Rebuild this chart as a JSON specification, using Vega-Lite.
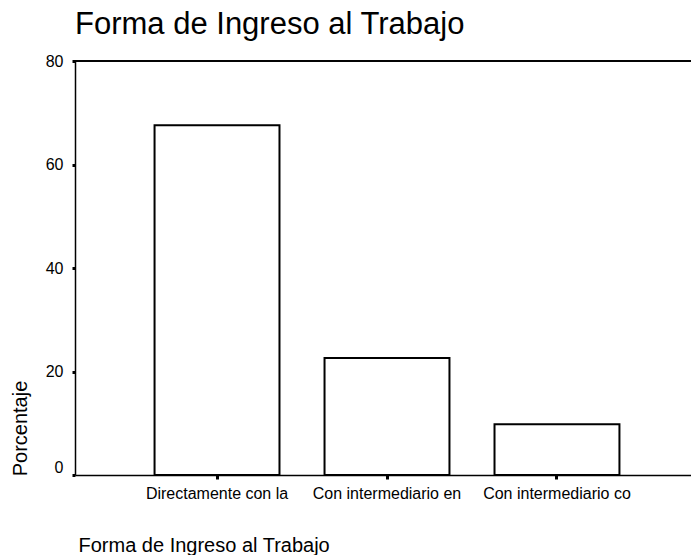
{
  "$schema": "https://vega.github.io/schema/vega-lite/v6.json",
  "autosize": {"type": "none"},
  "padding": {"left": 75, "top": 61, "right": 0, "bottom": 80},
  "width": 616,
  "height": 414,
  "background": "white",
  "title": {
    "text": "Forma de Ingreso al Trabajo",
    "anchor": "start",
    "frame": "group",
    "dx": 0,
    "dy": 35,
    "offset": 23,
    "baseline": "alphabetic",
    "font": "Liberation Sans",
    "fontSize": 31,
    "fontWeight": "normal",
    "color": "black"
  },
  "config": {
    "view": {"stroke": null},
    "font": "Liberation Sans"
  },
  "data": {
    "values": [
      {"forma": "Directamente con la", "porcentaje": 67.6},
      {"forma": "Con intermediario en", "porcentaje": 22.6},
      {"forma": "Con intermediario co", "porcentaje": 9.8}
    ]
  },
  "layer": [
    {
      "mark": {"type": "bar", "fill": "white", "stroke": "black", "strokeWidth": 2},
      "encoding": {
        "x": {
          "field": "forma",
          "type": "nominal",
          "sort": null,
          "scale": {"paddingInner": 0.265, "paddingOuter": 0.468, "range": [0, 624]},
          "axis": {
            "title": "Forma de Ingreso al Trabajo",
            "titleAnchor": "start",
            "titleAlign": "left",
            "titleX": 3,
            "titleY": 76,
            "titleBaseline": "alphabetic",
            "titleFont": "Liberation Sans",
            "titleFontSize": 20,
            "titleFontWeight": "normal",
            "titleColor": "black",
            "labelAngle": 0,
            "labelFont": "Liberation Sans",
            "labelFontSize": 16,
            "labelColor": "black",
            "labelPadding": 6,
            "domainColor": "black",
            "domainWidth": 1.5,
            "tickColor": "black",
            "tickSize": 4,
            "tickWidth": 3
          }
        },
        "y": {
          "field": "porcentaje",
          "type": "quantitative",
          "scale": {"domain": [0, 80], "nice": false},
          "axis": {
            "title": "Porcentaje",
            "values": [0, 20, 40, 60, 80],
            "grid": false,
            "titleX": -49,
            "titleY": 367,
            "titleAlign": "center",
            "titleBaseline": "alphabetic",
            "titleFont": "Liberation Sans",
            "titleFontSize": 20,
            "titleFontWeight": "normal",
            "titleColor": "black",
            "labelFont": "Liberation Sans",
            "labelFontSize": 16,
            "labelColor": "black",
            "labelPadding": 9,
            "labelOffset": {"condition": {"test": "datum.value === 0", "value": -8}, "value": 0},
            "domainColor": "black",
            "domainWidth": 1.5,
            "tickColor": "black",
            "tickSize": 3,
            "tickWidth": 3
          }
        }
      }
    },
    {
      "mark": {"type": "rule", "color": "black", "strokeWidth": 1.5},
      "encoding": {"y": {"datum": 80}}
    }
  ]
}
